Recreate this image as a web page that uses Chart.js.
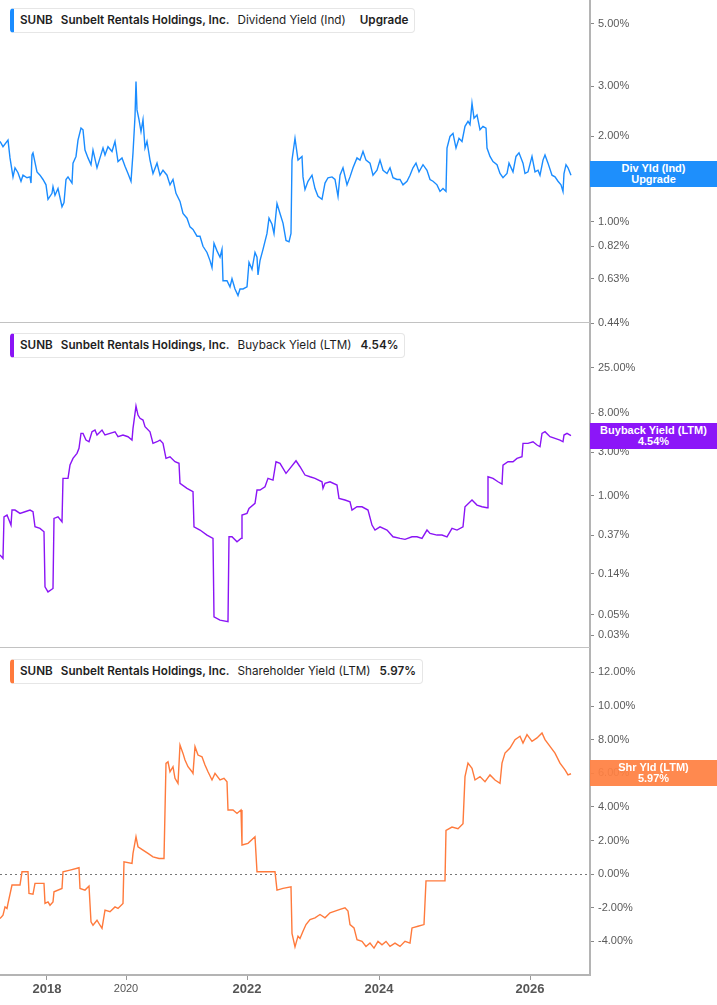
<!DOCTYPE html>
<html><head><meta charset="utf-8">
<script src="https://cdn.jsdelivr.net/npm/chart.js@4.4.0/dist/chart.umd.min.js"></script>
<style>
html,body{margin:0;padding:0;background:#fff;}
body{width:717px;height:1005px;position:relative;overflow:hidden;font-family:Inter,'Noto Sans',sans-serif;}
canvas{position:absolute;left:0;}
.leg{position:absolute;left:10px;height:23px;line-height:23px;border:1px solid #e6e6e6;border-left:4px solid;border-radius:4px;padding:0 6px 0 6px;font-size:11.7px;color:#1e1e1e;background:#fff;white-space:nowrap;z-index:5}
.leg b{font-weight:600}
.leg span{margin-left:8px}
.badge{position:absolute;left:590px;width:127px;height:26px;color:#fff;font:bold 11px 'Liberation Sans',Arial,sans-serif;text-align:center;line-height:11.5px;display:flex;flex-direction:column;justify-content:center;z-index:5}
</style></head>
<body>
<canvas id="c1" width="717" height="340" style="top:0;width:717px;height:340px"></canvas>
<canvas id="c2" width="717" height="342" style="top:323px;width:717px;height:342px"></canvas>
<canvas id="c3" width="717" height="357" style="top:648px;width:717px;height:357px"></canvas>

<div class="leg" style="top:8px;border-left-color:#1a8cff"><b>SUNB</b><b style="margin-left:8px">Sunbelt Rentals Holdings, Inc.</b><span>Dividend Yield (Ind)</span><b style="margin-left:14px">Upgrade</b></div>
<div class="leg" style="top:333px;border-left-color:#8a14f5"><b>SUNB</b><b style="margin-left:8px">Sunbelt Rentals Holdings, Inc.</b><span>Buyback Yield (LTM)</span><b style="margin-left:9px">4.54%</b></div>
<div class="leg" style="top:659px;border-left-color:#ff7a3c"><b>SUNB</b><b style="margin-left:8px">Sunbelt Rentals Holdings, Inc.</b><span>Shareholder Yield (LTM)</span><b style="margin-left:9px">5.97%</b></div>

<div class="badge" style="top:161px;background:#1e8ffc"><div>Div Yld (Ind)</div><div>Upgrade</div></div>
<div class="badge" style="top:423px;background:#8c16f8"><div>Buyback Yield (LTM)</div><div>4.54%</div></div>
<div class="badge" style="top:760px;background:rgba(255,128,66,0.93)"><div>Shr Yld (LTM)</div><div>5.97%</div></div>

<script>
// x positions are a period index along the shared time axis (0..590)
const xTickPos = [47, 126, 247, 379, 530];
const xTickLabels = ['2018', '2020', '2022', '2024', '2026'];

const divTicks = [0.44, 0.63, 0.82, 1, 2, 3, 5];
const bbTicks = [0.03, 0.05, 0.14, 0.37, 1, 3, 8, 25];
const shTicks = [-4, -2, 0, 2, 4, 6, 8, 10, 12];

const divX = [0,3,8,10,13,15,18,21,23,27,30,31,32,33,37,40,43,46,48,52,53,55,58,62,64,66,68,72,73,76,78,81,83,85,88,91,93,97,100,103,105,108,112,115,118,122,125,128,131,133,135,136,137,139,141,143,145,147,150,153,157,160,163,167,170,173,176,180,183,187,190,193,197,200,203,207,210,212,214,217,220,222,223,227,230,232,235,238,240,243,247,249,252,255,257,258,260,263,267,269,272,274,277,280,283,286,289,291,292,295,298,302,303,305,308,312,315,318,322,325,328,332,335,338,340,343,347,350,353,357,360,363,366,370,373,377,380,383,387,390,393,397,400,403,407,410,413,416,419,423,427,430,433,437,440,443,446,447,450,453,456,459,462,465,468,470,472,474,477,480,483,486,487,490,493,497,500,503,507,509,513,516,519,523,525,528,532,535,538,540,543,545,548,552,555,558,561,563,564,566,568,571];
const divY = [1.92,1.84,1.94,1.68,1.44,1.55,1.49,1.39,1.46,1.43,1.44,1.37,1.72,1.75,1.50,1.46,1.41,1.35,1.20,1.26,1.33,1.24,1.31,1.13,1.17,1.41,1.44,1.37,1.61,1.70,1.94,2.14,2.11,1.79,1.68,1.59,1.79,1.55,1.68,1.82,1.72,1.84,1.77,1.92,1.63,1.68,1.57,1.48,1.39,1.75,2.35,3.12,2.48,2.29,2.08,2.29,1.82,1.92,1.65,1.48,1.61,1.46,1.52,1.46,1.35,1.41,1.26,1.18,1.07,1.03,0.96,0.94,0.89,0.89,0.82,0.78,0.73,0.69,0.84,0.79,0.75,0.80,0.62,0.62,0.59,0.63,0.58,0.55,0.58,0.58,0.59,0.72,0.68,0.78,0.75,0.65,0.73,0.80,0.91,1.03,0.98,0.91,1.16,1.07,0.99,0.86,0.85,0.91,1.65,1.97,1.65,1.70,1.44,1.30,1.39,1.46,1.31,1.23,1.20,1.37,1.43,1.44,1.41,1.23,1.46,1.55,1.35,1.44,1.55,1.68,1.65,1.77,1.65,1.61,1.46,1.52,1.65,1.52,1.48,1.55,1.43,1.41,1.41,1.35,1.39,1.46,1.55,1.61,1.50,1.59,1.52,1.41,1.39,1.35,1.28,1.31,1.28,1.82,2.00,2.05,1.82,1.97,1.92,2.17,2.26,2.20,2.62,2.32,2.38,2.11,2.17,2.14,1.82,1.70,1.63,1.59,1.48,1.43,1.48,1.61,1.50,1.70,1.75,1.61,1.48,1.50,1.70,1.50,1.52,1.46,1.65,1.72,1.61,1.46,1.44,1.39,1.35,1.28,1.48,1.59,1.55,1.46];

const bbX = [0,3,4,7,9,11,12,15,20,25,30,33,35,40,44,45,48,53,54,58,62,63,68,70,73,77,79,81,83,86,89,92,95,97,102,105,110,115,118,123,128,132,133,136,138,140,143,145,150,153,157,160,163,166,170,175,179,180,187,193,194,200,207,213,214,220,228,229,232,237,241,242,247,249,255,257,260,265,268,273,276,280,286,290,296,300,305,310,315,322,323,325,330,337,339,345,350,352,357,362,368,372,375,380,387,393,400,405,412,417,422,427,430,437,442,447,452,457,463,465,472,477,482,487,488,493,498,502,503,508,513,517,522,523,528,533,537,540,542,545,550,555,560,563,564,567,571];
const bbY = [0.225,0.207,0.589,0.615,0.542,0.478,0.698,0.698,0.642,0.669,0.698,0.669,0.458,0.440,0.404,0.101,0.089,0.097,0.566,0.589,0.520,1.55,1.55,2.165,2.563,2.907,3.296,4.808,4.808,4.062,3.892,5.006,5.224,4.608,5.224,4.608,4.808,5.006,4.415,4.608,4.415,4.062,5.453,9.557,7.621,7.015,6.721,5.678,5.006,3.739,3.892,4.062,3.739,2.563,2.669,2.353,2.261,1.366,1.205,1.106,0.458,0.422,0.372,0.342,0.0476,0.0438,0.042,0.356,0.356,0.314,0.342,0.615,0.642,0.728,0.826,1.154,1.154,1.254,1.55,1.484,2.353,2.261,1.757,1.993,2.413,2.075,1.684,1.613,1.55,1.422,1.205,1.366,1.422,1.309,0.937,0.898,0.86,0.698,0.758,0.758,0.698,0.478,0.422,0.458,0.422,0.356,0.342,0.334,0.356,0.356,0.342,0.422,0.388,0.372,0.372,0.356,0.44,0.422,0.458,0.758,0.898,0.791,0.758,0.74,1.613,1.55,1.422,1.342,2.165,2.353,2.353,2.563,2.669,3.739,3.739,3.892,3.582,3.432,4.808,5.006,4.415,4.239,4.062,3.892,4.608,4.808,4.54];

const shX = [0,3,5,7,8,12,15,20,22,28,29,33,35,44,45,48,50,53,54,62,63,70,79,80,85,89,91,93,97,100,102,105,110,115,118,123,124,132,133,136,138,143,148,153,159,164,166,168,170,173,175,178,180,183,185,188,192,193,195,198,202,205,208,212,215,220,224,227,228,233,237,241,242,248,255,257,267,275,277,283,291,292,295,298,300,303,306,310,315,320,325,330,335,340,345,348,350,354,357,362,366,370,374,378,382,386,390,395,400,405,410,412,418,424,426,435,445,446,452,458,463,465,468,472,475,480,485,490,495,500,502,505,510,515,520,523,527,532,537,542,545,550,555,560,565,568,571];
const shY = [-2.64,-2.44,-1.95,-2.04,-1.74,-0.65,-0.65,-0.65,0.14,0.14,-1.15,-1.19,-0.55,-0.55,-1.74,-1.65,-1.85,-1.65,-1.05,-0.85,0.14,0.24,0.38,-0.85,-0.95,-0.71,-2.84,-3.04,-2.74,-3.04,-3.23,-2.14,-2.24,-1.95,-2.04,-1.74,0.73,0.64,1.23,2.22,1.63,1.43,1.23,1.03,0.93,0.93,6.59,6.68,6.09,6.39,5.70,5.40,7.68,7.18,6.79,6.39,6.09,5.99,7.58,7.08,6.98,6.49,6.09,5.60,5.99,5.60,5.70,5.49,3.81,3.81,3.61,3.81,1.73,1.83,2.22,0.14,0.14,0.14,-0.95,-0.85,-0.76,-3.53,-4.33,-3.69,-3.83,-3.4,-3.0,-2.7,-2.6,-2.4,-2.6,-2.3,-2.2,-2.1,-2.0,-2.2,-3.0,-3.2,-3.9,-4.0,-4.3,-4.1,-4.4,-4.0,-4.2,-4.0,-4.3,-4.1,-4.3,-4.0,-4.1,-3.2,-3.1,-3.0,-0.4,-0.4,-0.4,2.6,2.8,2.7,3.0,5.8,6.6,6.3,5.6,5.8,5.5,5.9,5.6,5.4,6.6,7.2,7.5,8.0,8.2,7.8,8.3,7.9,8.1,8.4,8.0,7.6,7.2,6.6,6.2,5.9,5.97];

function pts(xs, ys) { return xs.map((x, i) => ({ x: x, y: ys[i] })); }

const sepPlugin = {
  id: 'sep',
  beforeDatasetsDraw(chart, args, opts) {
    if (!opts.zero) return;
    const ctx = chart.ctx, a = chart.chartArea;
    const y = Math.round(chart.scales.y.getPixelForValue(0)) + 0.5;
    ctx.save();
    ctx.setLineDash([2, 3]);
    ctx.strokeStyle = '#777';
    ctx.lineWidth = 1;
    ctx.beginPath(); ctx.moveTo(a.left, y); ctx.lineTo(a.right, y); ctx.stroke();
    ctx.restore();
  },
  afterDraw(chart, args, opts) {
    if (!opts.sep) return;
    const ctx = chart.ctx, a = chart.chartArea;
    ctx.save();
    ctx.strokeStyle = '#c2c2c2';
    ctx.lineWidth = 1;
    ctx.beginPath(); ctx.moveTo(0, a.bottom - 0.5); ctx.lineTo(a.right, a.bottom - 0.5); ctx.stroke();
    ctx.restore();
  }
};

const tickFont = { family: "'Liberation Sans', Arial, sans-serif", size: 11 };

function makeChart(id, xs, ys, color, yType, yMin, yMax, yTicks, showX, padBottom, sepOpts) {
  const xScale = {
    type: 'linear', min: 0, max: 590, display: showX, position: 'bottom',
    afterBuildTicks(s) { s.ticks = xTickPos.map(v => ({ value: v })); },
    afterFit(s) { s.height = showX ? 30 : 0; s.paddingLeft = 0; s.paddingRight = 0; },
    grid: { drawOnChartArea: false, drawTicks: true, tickLength: 5, color: '#999' },
    border: { display: true, color: '#b4b4b4', width: 2 },
    ticks: {
      autoSkip: false, maxRotation: 0, padding: 2, color: '#555',
      callback: (v) => { const i = xTickPos.indexOf(v); return i >= 0 ? xTickLabels[i] : ''; },
      font: (ctx) => ctx.index === 1
        ? { family: "'Liberation Sans', Arial, sans-serif", size: 11, weight: 'normal' }
        : { family: "'Liberation Sans', Arial, sans-serif", size: 13, weight: 'bold' }
    }
  };
  return new Chart(document.getElementById(id), {
    type: 'line',
    data: { datasets: [{ data: pts(xs, ys), borderColor: color, borderWidth: 1.4, pointRadius: 0, tension: 0, fill: false }] },
    options: {
      responsive: false, animation: false, devicePixelRatio: 1,
      layout: { padding: { left: 0, right: 0, top: 0, bottom: padBottom } },
      plugins: { legend: { display: false }, tooltip: { enabled: false }, sep: sepOpts },
      scales: {
        x: xScale,
        y: {
          type: yType, position: 'right', min: yMin, max: yMax,
          afterBuildTicks(s) { s.ticks = yTicks.map(v => ({ value: v })); },
          afterFit(s) { s.width = 127; s.paddingTop = 0; s.paddingBottom = 0; },
          grid: { drawOnChartArea: false, drawTicks: true, tickLength: 4, color: '#888' },
          border: { display: true, color: '#b4b4b4', width: 2 },
          ticks: { autoSkip: false, padding: 4, color: '#5a5a5a', font: tickFont,
            callback: (v) => Number(v).toFixed(2) + '%' }
        }
      }
    },
    plugins: [sepPlugin]
  });
}

makeChart('c1', divX, divY, '#1a8cff', 'logarithmic', 0.44, 6.05, divTicks, false, 17, { sep: true });
makeChart('c2', bbX, bbY, '#8a14f5', 'logarithmic', 0.0217, 77.2, bbTicks, false, 17, { sep: true });
makeChart('c3', shX, shY, '#ff7a3c', 'linear', -6.0, 13.45, shTicks, true, 0, { zero: true });
</script>
</body></html>
